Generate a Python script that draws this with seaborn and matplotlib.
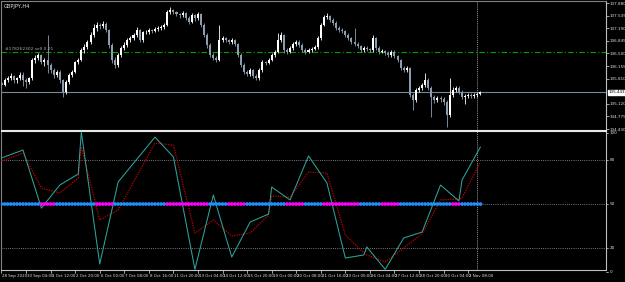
import numpy as np
import pandas as pd
import matplotlib
matplotlib.use("Agg")
import matplotlib.pyplot as plt
import matplotlib.transforms as mtransforms
import seaborn as sns

sns.set_style("dark")
plt.rcParams['font.family'] = ['Liberation Sans Narrow', 'DejaVu Sans']

# ---------------- data ----------------
chart_title = "GBPJPY,H4"
order_label = "#178262302 sell 0.01"
order_price = 136.54
bid_price = 135.443

opens = [135.68, 135.63, 135.77, 135.82, 135.88, 135.77, 135.82, 135.91, 135.77, 135.71,
         135.82, 136.32, 136.37, 136.45, 136.26, 136.32, 136.18, 136.04, 135.91, 135.99,
         135.77, 135.44, 135.71, 135.91, 135.99, 136.26, 136.32, 136.59, 136.67, 136.81,
         137.00, 137.19, 137.28, 137.25, 137.30, 137.14, 136.73, 136.32, 136.18, 136.45,
         136.65, 136.73, 136.86, 136.92, 137.00, 137.14, 136.86, 137.08, 137.08, 137.14,
         137.11, 137.17, 137.19, 137.22, 137.28, 137.63, 137.69, 137.63, 137.58, 137.55,
         137.60, 137.47, 137.36, 137.55, 137.47, 137.58, 137.28, 137.00, 136.73, 136.45,
         136.37, 136.32, 136.86, 136.92, 136.86, 136.81, 136.86, 136.75, 136.45, 136.18,
         135.99, 135.93, 136.04, 135.88, 135.82, 136.04, 136.26, 136.24, 136.32, 136.45,
         136.54, 136.86, 137.00, 136.59, 136.54, 136.65, 136.75, 136.81, 136.73, 136.59,
         136.54, 136.59, 136.62, 136.67, 136.92, 137.28, 137.49, 137.52, 137.41, 137.33,
         137.19, 137.14, 137.11, 137.00, 136.92, 136.81, 136.75, 136.70, 136.59, 136.65,
         136.62, 136.59, 136.92, 136.65, 136.54, 136.56, 136.51, 136.45, 136.54, 136.43,
         136.32, 136.10, 136.04, 136.10, 135.36, 135.22, 135.50, 135.55, 135.63, 135.77,
         135.55, 135.30, 135.22, 135.28, 135.25, 135.17, 134.81, 135.36, 135.50, 135.55,
         135.44, 135.30, 135.33, 135.36, 135.33, 135.36, 135.38]
highs = [135.74, 135.82, 135.88, 135.95, 135.92, 135.86, 135.98, 136.00, 135.82, 135.86,
         136.38, 136.45, 136.52, 136.48, 136.38, 137.00, 136.25, 136.10, 136.05, 136.04,
         135.80, 135.76, 135.96, 136.05, 136.30, 136.38, 136.66, 136.75, 136.88, 137.08,
         137.30, 137.36, 137.34, 137.38, 137.35, 137.18, 136.78, 136.40, 136.50, 136.70,
         136.80, 136.92, 136.98, 137.06, 137.22, 137.18, 137.12, 137.14, 137.19, 137.18,
         137.22, 137.24, 137.27, 137.33, 137.70, 137.76, 137.72, 137.67, 137.62, 137.66,
         137.64, 137.52, 137.60, 137.58, 137.64, 137.62, 137.32, 137.05, 136.78, 136.50,
         136.42, 137.28, 136.98, 136.96, 136.90, 136.92, 136.90, 136.79, 136.50, 136.24,
         136.05, 136.09, 136.08, 135.93, 136.10, 136.32, 136.30, 136.37, 136.50, 136.60,
         137.06, 137.08, 137.04, 136.64, 136.70, 136.82, 136.88, 136.86, 136.78, 136.64,
         136.64, 136.67, 136.72, 136.98, 137.34, 137.56, 137.60, 137.56, 137.46, 137.38,
         137.24, 137.19, 137.15, 137.05, 136.96, 137.19, 136.80, 136.74, 136.70, 136.69,
         136.66, 137.00, 136.96, 136.69, 136.61, 136.60, 136.56, 136.59, 136.58, 136.47,
         136.36, 136.15, 136.16, 136.14, 135.42, 135.56, 135.61, 135.70, 135.96, 135.82,
         135.60, 135.36, 135.34, 135.33, 135.30, 135.22, 135.83, 135.58, 135.62, 135.60,
         135.50, 135.40, 135.42, 135.41, 135.42, 135.44, 135.48]
lows = [135.55, 135.60, 135.72, 135.78, 135.70, 135.70, 135.78, 135.62, 135.55, 135.66,
        135.78, 136.25, 136.33, 136.20, 136.15, 135.95, 135.95, 135.82, 135.85, 135.70,
        135.30, 135.40, 135.66, 135.85, 135.95, 136.20, 136.28, 136.52, 136.62, 136.76,
        136.95, 137.12, 137.18, 137.20, 137.08, 136.65, 136.25, 136.10, 136.12, 136.40,
        136.60, 136.68, 136.80, 136.88, 136.96, 136.80, 136.82, 137.02, 137.04, 137.05,
        137.08, 137.12, 137.15, 137.18, 137.25, 137.58, 137.58, 137.52, 137.48, 137.50,
        137.42, 137.30, 137.32, 137.40, 137.42, 137.22, 136.94, 136.66, 136.40, 136.32,
        136.26, 136.28, 136.82, 136.80, 136.76, 136.77, 136.70, 136.40, 136.12, 135.94,
        135.88, 135.89, 135.82, 135.77, 135.78, 136.00, 136.18, 136.20, 136.28, 136.40,
        136.50, 136.82, 136.52, 136.48, 136.50, 136.60, 136.70, 136.68, 136.54, 136.48,
        136.50, 136.55, 136.58, 136.63, 136.88, 137.24, 137.44, 137.36, 137.28, 137.14,
        137.09, 137.06, 136.95, 136.86, 136.76, 136.70, 136.64, 136.54, 136.55, 136.57,
        136.54, 136.55, 136.60, 136.49, 136.50, 136.46, 136.40, 136.41, 136.38, 136.26,
        136.05, 135.98, 136.00, 135.30, 134.95, 135.18, 135.45, 135.50, 135.58, 135.50,
        134.76, 135.14, 135.16, 135.18, 135.10, 134.48, 134.77, 135.30, 135.44, 135.38,
        135.24, 135.12, 135.28, 135.28, 135.29, 135.31, 135.35]
closes = [135.63, 135.77, 135.82, 135.88, 135.77, 135.82, 135.91, 135.77, 135.71, 135.82,
          136.32, 136.37, 136.45, 136.26, 136.32, 136.18, 136.04, 135.91, 135.99, 135.77,
          135.44, 135.71, 135.91, 135.99, 136.26, 136.32, 136.59, 136.67, 136.81, 137.00,
          137.19, 137.28, 137.25, 137.30, 137.14, 136.73, 136.32, 136.18, 136.45, 136.65,
          136.73, 136.86, 136.92, 137.00, 137.14, 136.86, 137.08, 137.08, 137.14, 137.11,
          137.17, 137.19, 137.22, 137.28, 137.63, 137.69, 137.63, 137.58, 137.55, 137.60,
          137.47, 137.36, 137.55, 137.47, 137.58, 137.28, 137.00, 136.73, 136.45, 136.37,
          136.32, 136.86, 136.92, 136.86, 136.81, 136.86, 136.75, 136.45, 136.18, 135.99,
          135.93, 136.04, 135.88, 135.82, 136.04, 136.26, 136.24, 136.32, 136.45, 136.54,
          136.86, 137.00, 136.59, 136.54, 136.65, 136.75, 136.81, 136.73, 136.59, 136.54,
          136.59, 136.62, 136.67, 136.92, 137.28, 137.49, 137.52, 137.41, 137.33, 137.19,
          137.14, 137.11, 137.00, 136.92, 136.81, 136.75, 136.70, 136.59, 136.65, 136.62,
          136.59, 136.92, 136.65, 136.54, 136.56, 136.51, 136.45, 136.54, 136.43, 136.32,
          136.10, 136.04, 136.10, 135.36, 135.22, 135.50, 135.55, 135.63, 135.77, 135.55,
          135.30, 135.22, 135.28, 135.25, 135.17, 134.81, 135.36, 135.50, 135.55, 135.44,
          135.30, 135.33, 135.36, 135.33, 135.36, 135.38, 135.443]

# oscillator (teal) and its signal (dark red), vertices by bar index
osc_bars = [0, 7, 13, 19, 25, 26, 32, 38, 50, 56, 63, 69, 75, 81, 87, 88, 94, 100,
            106, 112, 118, 119, 125, 131, 137, 143, 149, 150, 156]
osc_vals = [81.7, 87.2, 47.2, 63.1, 70.7, 99.6, 8.7, 65.2, 96.1, 82.4, 5.0, 56.2, 13.5,
            37.6, 43.1, 61.7, 52.8, 83.1, 64.5, 12.8, 14.9, 20.4, 5.0, 26.6, 30.7, 63.1,
            52.1, 66.5, 89.3]
sig_vals = [79.6, 85.1, 61.0, 57.6, 67.9, 89.3, 39.0, 45.9, 92.0, 90.6, 30.0, 39.0, 28.0,
            30.0, 42.4, 55.5, 54.8, 72.0, 71.3, 28.6, 16.3, 14.9, 10.1, 19.7, 29.5, 52.8,
            53.4, 54.1, 78.9]

# state dots on the 50 line: (state, number of bars)
state_runs = [("up", 13), ("dn", 5), ("up", 13), ("dn", 6), ("up", 17), ("dn", 14),
              ("up", 6), ("dn", 6), ("up", 13), ("dn", 6), ("up", 6), ("dn", 12),
              ("up", 7), ("dn", 6), ("up", 17), ("dn", 3), ("up", 7)]
state_level = 50

levels = [80, 50, 20]
ind_labels = ["100", "80", "50", "20", "0"]
ind_label_vals = [98.9, 80, 50, 20, 3.0]

price_ticks = [137.880, 137.535, 137.190, 136.845, 136.500, 136.155, 135.810,
               135.120, 134.775, 134.430]

time_bars = [0, 8, 16, 24, 32, 40, 48, 56, 64, 72, 80, 88, 96, 104, 112, 120, 128, 136, 144, 152]
time_labels = ["28 Sep 2020", "30 Sep 04:00", "1 Oct 12:00", "2 Oct 20:00", "6 Oct 00:00",
               "7 Oct 08:00", "8 Oct 16:00", "11 Oct 20:00", "13 Oct 04:00", "14 Oct 12:00",
               "15 Oct 20:00", "19 Oct 00:00", "20 Oct 08:00", "21 Oct 16:00", "23 Oct 00:00",
               "26 Oct 04:00", "27 Oct 12:00", "28 Oct 20:00", "30 Oct 04:00", "2 Nov 08:00"]
cursor_bar = 155

# ---------------- styling ----------------
BG = "black"
UP = "#FFFFFF"
DN = "#8D9DB0"
TEAL = "#2FA39B"
RED = "#C40000"
GRID = "#A0A0A0"
TXT = "#E2E2E2"
FS = 3.0

W, H = 625, 282
fig = plt.figure(figsize=(W / 100, H / 100), dpi=100, facecolor=BG)

def fx(px):
    return px / W

def fy(py):
    return 1 - py / H

ax1 = fig.add_axes([fx(1), fy(130), fx(605), (130 - 1) / H])
ax2 = fig.add_axes([fx(1), fy(270), fx(605), (270 - 131) / H])

xmin, xmax = -0.16, 196.9
for ax in (ax1, ax2):
    ax.set_facecolor(BG)
    ax.set_xlim(xmin, xmax)
    ax.grid(False)
    for s in ax.spines.values():
        s.set_linewidth(0.8)

ax1.set_ylim(134.403, 137.935)
ax2.set_ylim(4.55, 100.3)

# ---- candles ----
df = pd.DataFrame({"bar": np.arange(len(closes)), "open": opens, "high": highs,
                   "low": lows, "close": closes})
df["up"] = df["close"] >= df["open"]
for _, r in df.iterrows():
    col = UP if r["up"] else DN
    ax1.vlines(r["bar"], r["low"], r["high"], color=col, linewidth=0.6, zorder=3)
    lo, hi = min(r["open"], r["close"]), max(r["open"], r["close"])
    ax1.bar(r["bar"], max(hi - lo, 0.006), bottom=lo, width=0.66, color=col,
            edgecolor=col, linewidth=0, zorder=4)

ax1.axhline(bid_price, color="#778899", linewidth=0.8, zorder=2)
ax1.axhline(order_price, color="#00A000", linewidth=0.8, linestyle=(0, (5, 2, 1, 2)), zorder=2)
ax1.text(1.0, order_price + 0.03, order_label, color="#A8A8A8", fontsize=3.2,
         va="bottom", ha="left", zorder=5)
ax1.text(0.005, 0.955, chart_title, transform=ax1.transAxes, color=TXT, fontsize=3.7,
         va="center", ha="left")
ax1.axvline(cursor_bar, color="#C8C8C8", linewidth=0.5, linestyle=(0, (1.5, 1.5)), zorder=1)
ax2.axvline(cursor_bar, color="#C8C8C8", linewidth=0.5, linestyle=(0, (1.5, 1.5)), zorder=1)

ax1.yaxis.tick_right()
ax1.set_yticks(price_ticks)
ax1.set_yticklabels([f"{p:.3f}" for p in price_ticks])
ax1.tick_params(axis="y", colors=TXT, labelsize=FS, length=1.8, width=0.5, pad=0.5)
ax1.tick_params(axis="x", bottom=False, labelbottom=False)
ax1.text(1.004, (bid_price - 134.403) / (137.935 - 134.403), f"{bid_price:.3f}",
         transform=ax1.transAxes, fontsize=FS, color="black", va="center", ha="left",
         bbox=dict(boxstyle="square,pad=0.12", fc="white", ec="white"), zorder=10, clip_on=False)

ax1.spines["top"].set_color("#808080")
ax1.spines["left"].set_color("#808080")
ax1.spines["right"].set_color("#C0C0C0")
ax1.spines["bottom"].set_color("#E8E8E8")

# ---- indicator pane ----
for lv in levels:
    ax2.axhline(lv, color=GRID, linewidth=0.6, linestyle=(0, (1, 1.6)), zorder=1)

osc_df = pd.DataFrame({"bar": osc_bars, "osc": osc_vals, "sig": sig_vals})
sns.lineplot(data=osc_df, x="bar", y="sig", ax=ax2, color=RED, linewidth=0.9,
             linestyle=(0, (1, 1.0)), zorder=3)
sns.lineplot(data=osc_df, x="bar", y="osc", ax=ax2, color=TEAL, linewidth=0.75, zorder=4)

states = []
for st, n in state_runs:
    states += [st] * n
dots = pd.DataFrame({"bar": np.arange(len(states)), "lvl": state_level, "state": states})
sns.scatterplot(data=dots, x="bar", y="lvl", hue="state",
                palette={"up": "#1E90FF", "dn": "#FF00FF"}, marker="o", s=7,
                linewidth=0, edgecolor="none", ax=ax2, legend=False, zorder=5)

ax2.set_xlabel("")
ax2.set_ylabel("")
ax2.set_yticks([])
ax2.set_xticks([])
ax2.spines["top"].set_color("#E8E8E8")
ax2.spines["left"].set_color("#808080")
ax2.spines["right"].set_color("#C0C0C0")
ax2.spines["bottom"].set_color("#C0C0C0")

ytr = mtransforms.blended_transform_factory(ax2.transAxes, ax2.transData)
for lab, v in zip(ind_labels, ind_label_vals):
    ax2.plot([1.0, 1.003], [v, v], transform=ytr, color=TXT, linewidth=0.5, clip_on=False)
    ax2.text(1.006, v, lab, transform=ytr, color=TXT, fontsize=FS, va="center", ha="left",
             clip_on=False)

xtr = mtransforms.blended_transform_factory(ax2.transData, ax2.transAxes)
for b, lab in zip(time_bars, time_labels):
    ax2.plot([b, b], [0, -0.025], transform=xtr, color=TXT, linewidth=0.5, clip_on=False)
    ax2.text(b + 0.3, -0.045, lab, transform=xtr, color=TXT, fontsize=2.85, va="center",
             ha="left", clip_on=False)

fig.savefig("out.png", dpi=100, facecolor=BG)
